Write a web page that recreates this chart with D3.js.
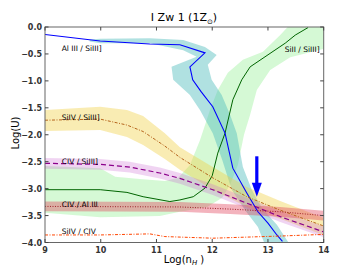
<!DOCTYPE html>
<html><head><meta charset="utf-8">
<script src="https://cdn.jsdelivr.net/npm/d3@7"></script>
<style>body{margin:0;background:#fff}svg{display:block}text{font-family:"DejaVu Sans",sans-serif}</style>
</head><body><svg id="c" width="360" height="270"></svg>
<script>
// ---- data (Log(n_H), Log(U)) ----
const xTicks = [9, 10, 11, 12, 13, 14];
const yTicks = [0, -0.5, -1, -1.5, -2, -2.5, -3, -3.5, -4];

// Al III / Si III]
const alX = [9.0, 9.99, 10.88, 11.42, 11.87, 11.60, 11.65, 11.80, 12.01, 12.23, 12.37, 12.62, 12.82, 13.0, 13.16, 13.26];
const alY = [-0.14, -0.26, -0.315, -0.33, -0.48, -0.74, -0.98, -1.20, -1.48, -1.97, -2.62, -3.08, -3.43, -3.64, -3.86, -3.98];
const alBandX = [9.8, 9.99, 10.88, 11.48, 11.87, 12.08, 11.92, 11.99, 12.17, 12.32, 12.44, 12.55, 12.71, 12.89, 13.16, 13.40,
                 12.95, 12.82, 12.59, 12.35, 12.18, 12.01, 11.78, 11.60, 11.30, 11.27, 11.72, 11.48, 10.88, 9.99, 9.8];
const alBandY = [-0.23, -0.22, -0.21, -0.24, -0.37, -0.52, -0.70, -0.98, -1.26, -1.63, -1.97, -2.60, -3.02, -3.36, -3.67, -4.05,
                 -4.05, -3.71, -3.40, -3.02, -2.47, -1.97, -1.54, -1.26, -0.98, -0.74, -0.55, -0.43, -0.30, -0.30, -0.27];

// Si II / Si III]
const siiX = [9.0, 9.99, 10.47, 10.76, 11.24, 11.42, 11.66, 11.87, 12.0, 12.10, 12.23, 12.37, 12.53, 12.68, 13.31, 13.49, 13.72];
const siiY = [-3.02, -3.02, -3.07, -3.15, -3.24, -3.21, -3.15, -2.99, -2.76, -2.34, -1.97, -1.35, -0.98, -0.74, -0.30, -0.15, -0.01];
const siiBandX = [9.0, 9.99, 10.26, 10.70, 11.15, 11.39, 11.60, 11.78, 11.96, 12.10, 12.28, 12.55, 12.91, 13.22, 13.40, 14.05,
                  14.05, 13.40, 13.04, 12.80, 12.68, 12.57, 12.46, 12.32, 12.18, 11.91, 11.42, 11.06, 9.99, 9.0];
const siiBandY = [-2.58, -2.62, -2.78, -2.82, -2.86, -2.80, -2.56, -2.10, -1.54, -1.17, -0.85, -0.61, -0.46, -0.15, 0.05, 0.05,
                  -0.39, -0.56, -0.80, -1.17, -1.63, -2.00, -2.56, -2.93, -3.17, -3.34, -3.43, -3.51, -3.53, -3.45];

// Si IV / Si III]
const sivX = [9.0, 9.99, 10.47, 10.76, 11.15, 11.42, 12.01, 12.62, 13.22, 13.99];
const sivY = [-1.73, -1.71, -1.82, -1.94, -2.21, -2.42, -2.80, -3.15, -3.40, -3.69];
const sivUp = [-1.54, -1.48, -1.54, -1.65, -1.97, -2.23, -2.60, -2.97, -3.23, -3.54];
const sivLo = [-1.93, -1.91, -2.04, -2.19, -2.45, -2.65, -3.02, -3.34, -3.56, -3.86];

// C IV / Si III]
const civX = [9.0, 9.99, 10.52, 11.06, 11.42, 12.01, 12.62, 13.22, 13.99];
const civY = [-2.53, -2.55, -2.60, -2.71, -2.81, -3.02, -3.27, -3.52, -3.80];
const civUp = [-2.43, -2.45, -2.50, -2.61, -2.71, -2.92, -3.17, -3.42, -3.70];
const civLo = [-2.63, -2.65, -2.70, -2.81, -2.91, -3.12, -3.37, -3.62, -3.90];

// C IV / Al III
const caX = [9.0, 11.42, 12.32, 13.22, 13.99];
const caY = [-3.33, -3.34, -3.38, -3.43, -3.50];
const caUp = [-3.24, -3.25, -3.29, -3.34, -3.41];
const caLo = [-3.42, -3.43, -3.47, -3.52, -3.59];

// Si IV / C IV
const scX = [9.0, 9.99, 10.88, 11.15, 12.01, 12.62, 13.22, 13.99];
const scY = [-3.86, -3.86, -3.84, -3.89, -3.92, -3.90, -3.88, -3.85];

// labels (position of text baseline start)
const labelText = ["Al III / SiIII]", "SiIV / SiIII]", "CIV / SiIII]", "CIV / Al III", "SiIV / CIV", "SiII / SiIII]"];
const labelX = [9.3, 9.3, 9.3, 9.3, 9.3, 13.3];
const labelY = [-0.44, -1.72, -2.54, -3.34, -3.84, -0.46];
const arrowX = 12.8, arrowTop = -2.40, arrowTip = -3.15;

// ---- drawing ----
const svg = d3.select("#c");
const L = 45, R = 323.7, T = 27, B = 242.5;
const x = d3.scaleLinear().domain([9, 14]).range([L, R]);
const y = d3.scaleLinear().domain([0, -4]).range([T, B]);

svg.append("defs").append("clipPath").attr("id", "clip")
  .append("rect").attr("x", L).attr("y", T).attr("width", R - L).attr("height", B - T);
const g = svg.append("g").attr("clip-path", "url(#clip)");

const line = d3.line().x(d => x(d[0])).y(d => y(d[1]));
const zip = (a, b) => a.map((v, i) => [v, b[i]]);
const area = (xs, up, lo) => d3.area().x(d => x(d[0])).y0(d => y(d[2])).y1(d => y(d[1]))(xs.map((v, i) => [v, up[i], lo[i]]));

// bands
g.append("path").attr("d", line(zip(siiBandX, siiBandY)) + "Z").attr("fill", "#90ee90").attr("fill-opacity", 0.38);
g.append("path").attr("d", line(zip(alBandX, alBandY)) + "Z").attr("fill", "#50bcbc").attr("fill-opacity", 0.45);
g.append("path").attr("d", area(sivX, sivUp, sivLo)).attr("fill", "#f0d040").attr("fill-opacity", 0.4);
g.append("path").attr("d", area(civX, civUp, civLo)).attr("fill", "#c864d2").attr("fill-opacity", 0.28);
g.append("path").attr("d", area(caX, caUp, caLo)).attr("fill", "#e0405a").attr("fill-opacity", 0.4);

// lines
const drawLine = (xs, ys, col, dash, w) => g.append("path").attr("d", line(zip(xs, ys)))
  .attr("fill", "none").attr("stroke", col).attr("stroke-width", w || 1).attr("stroke-dasharray", dash || null);
drawLine(siiX, siiY, "#006400", null, 1);
drawLine(alX, alY, "#0000ff", null, 1.1);
drawLine(sivX, sivY, "#b5651d", "3,1.5,1,1.5", 1);
drawLine(civX, civY, "#8b008b", "5,3", 1.2);
drawLine(caX, caY, "#a0202a", "1,1.5", 1);
drawLine(scX, scY, "#ff4500", "3,1.5,1,1.5", 1);

// arrow
const ax = x(arrowX), aTop = y(arrowTop), aTip = y(arrowTip);
svg.append("rect").attr("x", ax - 1.6).attr("y", aTop).attr("width", 3.2).attr("height", aTip - aTop - 13).attr("fill", "#0000ff");
svg.append("path").attr("d", `M${ax - 5},${aTip - 14}L${ax + 5},${aTip - 14}L${ax},${aTip}Z`).attr("fill", "#0000ff");

// labels
labelText.forEach((t, i) => svg.append("text").attr("x", x(labelX[i])).attr("y", y(labelY[i]))
  .attr("font-size", 7.5).attr("fill", "#000").text(t));

// frame & ticks
svg.append("rect").attr("x", L).attr("y", T).attr("width", R - L).attr("height", B - T)
  .attr("fill", "none").attr("stroke", "#666").attr("stroke-width", 1);
const tl = 3.5;
xTicks.forEach(v => {
  svg.append("line").attr("x1", x(v)).attr("x2", x(v)).attr("y1", B).attr("y2", B - tl).attr("stroke", "#444");
  svg.append("line").attr("x1", x(v)).attr("x2", x(v)).attr("y1", T).attr("y2", T + tl).attr("stroke", "#444");
  svg.append("text").attr("x", x(v)).attr("y", B + 10).attr("text-anchor", "middle").attr("font-size", 8)
    .attr("font-weight", "bold").attr("fill", "#333").text(d3.format("d")(v));
});
yTicks.forEach(v => {
  svg.append("line").attr("x1", L).attr("x2", L + tl).attr("y1", y(v)).attr("y2", y(v)).attr("stroke", "#444");
  svg.append("line").attr("x1", R).attr("x2", R - tl).attr("y1", y(v)).attr("y2", y(v)).attr("stroke", "#444");
  svg.append("text").attr("x", L - 3).attr("y", y(v) + 3).attr("text-anchor", "end").attr("font-size", 8)
    .attr("font-weight", "bold").attr("fill", "#333").text(d3.format(".1f")(v).replace("-", "\u2212"));
});

// title
const title = svg.append("text").attr("x", 184).attr("y", 21).attr("text-anchor", "middle").attr("font-size", 11).attr("fill", "#000");
title.append("tspan").text("I Zw 1 (1Z");
title.append("tspan").attr("font-size", 7).attr("dy", 3).text("\u2299");
title.append("tspan").attr("dy", -3).text(")");

// axis labels
const xl = svg.append("text").attr("x", 184).attr("y", 263).attr("text-anchor", "middle").attr("font-size", 10).attr("fill", "#000");
xl.append("tspan").text("Log(n");
xl.append("tspan").attr("font-size", 7).attr("dy", 2).attr("font-style", "italic").text("H");
xl.append("tspan").attr("dy", -2).text(" )");
svg.append("text").attr("transform", "translate(19,133) rotate(-90)").attr("text-anchor", "middle")
  .attr("font-size", 10).attr("fill", "#000").text("Log(U)");
</script></body></html>
